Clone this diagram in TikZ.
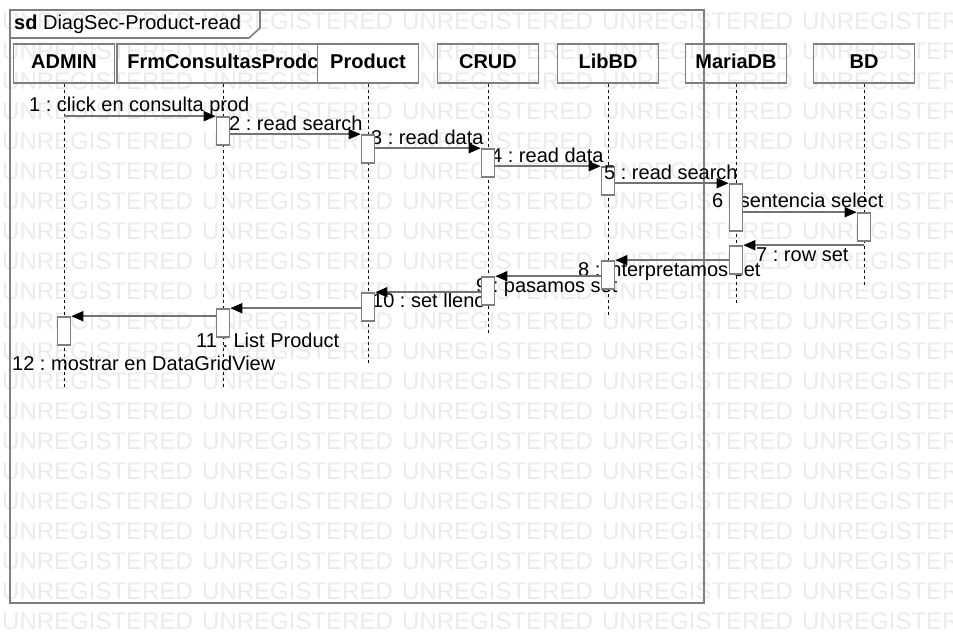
\documentclass[tikz,border=0pt]{standalone}
\usepackage{fontspec}
\setmainfont{Liberation Sans}
\usepackage{tikz}
\usetikzlibrary{arrows.meta}
\definecolor{umlgray}{HTML}{7F7F7F}
\definecolor{msggray}{HTML}{737373}
\definecolor{wmgray}{HTML}{EBEBEB}
\frenchspacing

\begin{document}
\begin{tikzpicture}[x=1pt,y=-1pt,
  wm/.style={font=\fontsize{24}{26}\selectfont,text=wmgray,inner sep=0pt,anchor=west},
  head/.style={rectangle,draw=umlgray,line width=1.8pt,minimum width=101pt,minimum height=39pt,font=\fontsize{20}{22}\selectfont\bfseries,text height=14.5pt,text depth=5pt,inner sep=0pt},
  life/.style={black,line width=0.8pt,dash pattern=on 3pt off 3pt},
  lbl/.style={font=\fontsize{20}{22}\selectfont,inner sep=0pt,anchor=base west},
  act/.style={rectangle,draw=umlgray,line width=1.6pt,fill=white,minimum width=13pt,minimum height=28pt,inner sep=0pt},
  msg/.style={-{Triangle[length=12pt,width=10pt,black]},msggray,line width=1.6pt}]
\useasboundingbox (0,0) rectangle (953,644);
% watermark
\foreach \r in {0,...,20}
  \foreach \c in {0,...,4}
    \node[wm] (wm\r-\c) at (2+200*\c,21+30*\r) {UNREGISTERED};
% frame
\draw[umlgray,line width=2pt] (10,10) rectangle (704,603);
\draw[umlgray,line width=1.6pt] (10,38) -- (249,38) -- (260,28) -- (260,10);
\node[lbl] (title) at (14,30) {\textbf{sd} DiagSec-Product-read};
% lifelines
\node[head,minimum width=212pt] (frm) at (223,63.5) {FrmConsultasProdc};
\node[head] (admin) at (64,63.5) {ADMIN};
\node[head,fill=white] (product) at (368,63.5) {Product};
\node[head] (crud) at (488,63.5) {CRUD};
\node[head] (libbd) at (608,63.5) {LibBD};
\node[head] (mariadb) at (736,63.5) {MariaDB};
\node[head] (bd) at (864,63.5) {BD};
\coordinate (admin-end) at (64,387);
\coordinate (frm-end) at (223,387);
\coordinate (product-end) at (368,363);
\coordinate (crud-end) at (488,333);
\coordinate (libbd-end) at (608,316);
\coordinate (mariadb-end) at (736,303);
\coordinate (bd-end) at (864,287);
\foreach \n in {admin,frm,product,crud,libbd,mariadb,bd}
  \draw[life] (\n.south) -- (\n-end);
% message labels
\node[lbl] (t1) at (29,112) {1 : click en consulta prod};
\node[lbl] (t3) at (371,145) {3 : read data};
\node[lbl] (t4) at (491,163) {4 : read data};
\node[lbl] (t6) at (712,208) {6 : sentencia select};
\node[lbl] (t7) at (756,262) {7 : row set};
\node[lbl] (t8) at (578,277) {8 : interpretamos set};
\node[lbl] (t9) at (476,293) {9 : pasamos set};
\node[lbl] (t10) at (372,308) {10 : set lleno};
\node[lbl] (t11) at (196,347) {11 : List Product};
\node[lbl] (t12) at (12,370) {12 : mostrar en DataGridView};
% activations
\node[act] (frm1) at (223,131) {};
\node[act] (prod1) at (368,149) {};
\node[act] (crud1) at (488,163) {};
\node[act] (lib1) at (608,181) {};
\node[act,minimum height=47pt] (maria1) at (736,207.5) {};
\node[act] (bd1) at (864,227) {};
\node[act] (maria2) at (736,260) {};
\node[act] (lib2) at (608,275) {};
\node[act] (crud2) at (488,291) {};
\node[act] (prod2) at (368,307) {};
\node[act] (frm2) at (223,323) {};
\node[act] (admin1) at (64,331) {};
\node[lbl] (t2) at (229,131) {2 : read search};
\node[lbl] (t5) at (604,180) {5 : read search};
% messages
\draw[msg] (admin.south |- frm1.north) -- (frm1.north west);
\draw[msg] (frm1.east |- prod1.north) -- (prod1.north west);
\draw[msg] (prod1.east |- crud1.north) -- (crud1.north west);
\draw[msg] (crud1.east |- lib1.north) -- (lib1.north west);
\draw[msg] (lib1.east |- maria1.north) -- (maria1.north west);
\draw[msg] (maria1.east |- bd1.north) -- (bd1.north west);
\draw[msg] (bd.south |- maria2.north) -- (maria2.north east);
\draw[msg] (maria2.west |- lib2.north) -- (lib2.north east);
\draw[msg] (lib2.west |- crud2.north) -- (crud2.north east);
\draw[msg] (crud2.west |- prod2.north) -- (prod2.north east);
\draw[msg] (prod2.west |- frm2.north) -- (frm2.north east);
\draw[msg] (frm2.west |- admin1.north) -- (admin1.north east);
\end{tikzpicture}
\end{document}
